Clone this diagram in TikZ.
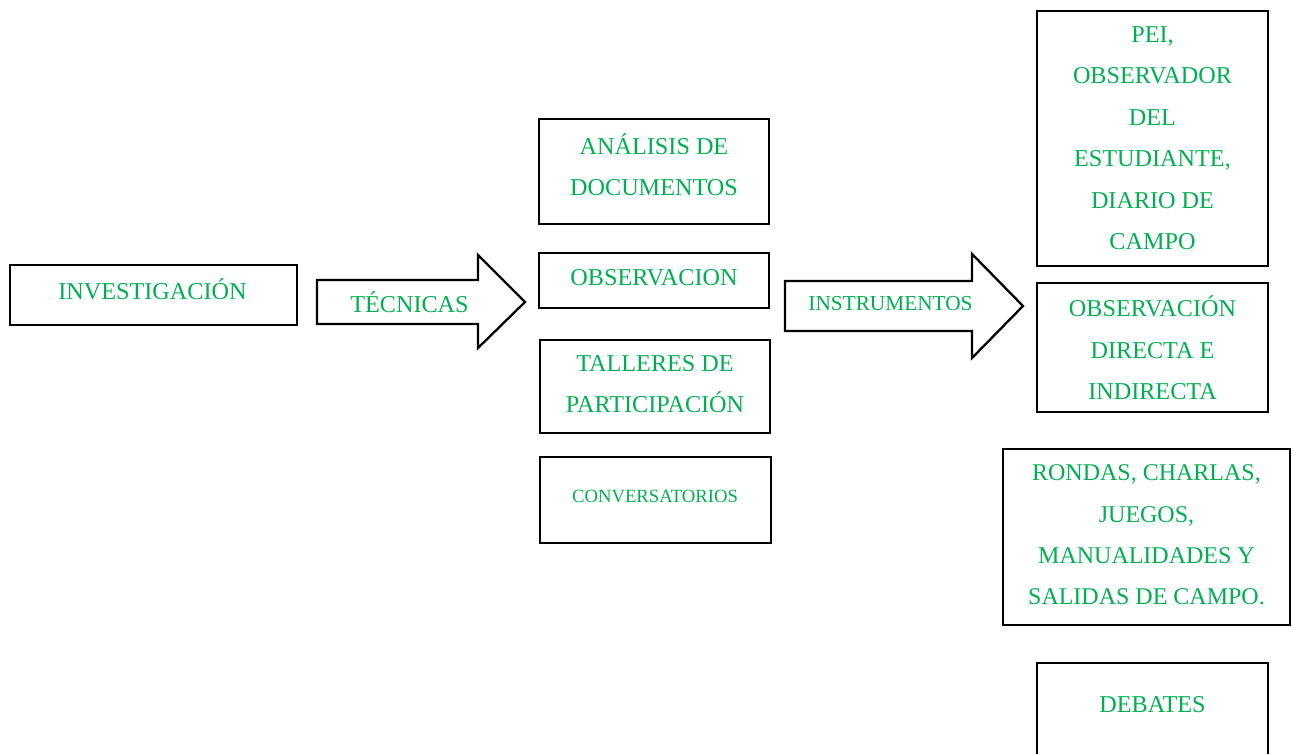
\documentclass[tikz,border=0pt]{standalone}
\usepackage{fontspec}
\setmainfont{Liberation Serif}
\definecolor{txtgreen}{HTML}{00B050}
\begin{document}
\begin{tikzpicture}[x=1pt,y=-1pt,
  box/.style={draw=black,line width=2.5pt,rectangle,anchor=north west,inner sep=0pt,outer sep=0pt},
  txt/.style={text=txtgreen,align=center,inner sep=0pt,font=\fontsize{24.2}{41.5}\selectfont},
  arrowshape/.style={draw=black,line width=2.3pt,fill=white,line join=miter}]
\useasboundingbox (0,0) rectangle (1294,754);
\clip (0,0) rectangle (1294,754);
% boxes
\node[box,minimum width=287pt,minimum height=60pt] (inv) at (10,265) {};
\node[box,minimum width=230pt,minimum height=105pt] (ana) at (539,119) {};
\node[box,minimum width=230pt,minimum height=55pt] (obs) at (539,253) {};
\node[box,minimum width=230pt,minimum height=93pt] (tal) at (540,340) {};
\node[box,minimum width=231pt,minimum height=86pt] (con) at (540,457) {};
\node[box,minimum width=231pt,minimum height=255pt] (pei) at (1037,11) {};
\node[box,minimum width=231pt,minimum height=129pt] (odi) at (1037,283) {};
\node[box,minimum width=287pt,minimum height=176pt] (ron) at (1003,449) {};
\node[box,minimum width=231pt,minimum height=140pt] (deb) at (1037,663) {};
% block arrows
\draw[arrowshape] (317,280) -- (478,280) -- (478,255) -- (525,302) -- (478,348) -- (478,324) -- (317,324) -- cycle;
\draw[arrowshape] (785,281) -- (972,281) -- (972,254) -- (1023,306) -- (972,358) -- (972,331) -- (785,331) -- cycle;
% texts
\node[txt] (t-inv) at (152.5,289) {INVESTIGACIÓN};
\node[txt] (t-tec) at (409.5,302) {TÉCNICAS};
\node[txt,font=\fontsize{21.3}{24}\selectfont] (t-ins) at (890.5,304) {INSTRUMENTOS};
\node[txt] (t-ana) at (654,164.5) {ANÁLISIS DE\\DOCUMENTOS};
\node[txt] (t-obs) at (654,278) {OBSERVACION};
\node[txt] (t-tal) at (655,384) {TALLERES DE\\PARTICIPACIÓN};
\node[txt,font=\fontsize{18.7}{22}\selectfont] (t-con) at (655,496) {CONVERSATORIOS};
\node[txt] (t-pei) at (1152.5,138) {PEI,\\OBSERVADOR\\DEL\\ESTUDIANTE,\\DIARIO DE\\CAMPO};
\node[txt] (t-odi) at (1152.5,348) {OBSERVACIÓN\\DIRECTA E\\INDIRECTA};
\node[txt,font=\fontsize{24}{41.3}\selectfont] (t-ron) at (1146.5,535) {RONDAS, CHARLAS,\\JUEGOS,\\MANUALIDADES Y\\SALIDAS DE CAMPO.};
\node[txt] (t-deb) at (1152.5,705) {DEBATES};
\end{tikzpicture}
\end{document}
